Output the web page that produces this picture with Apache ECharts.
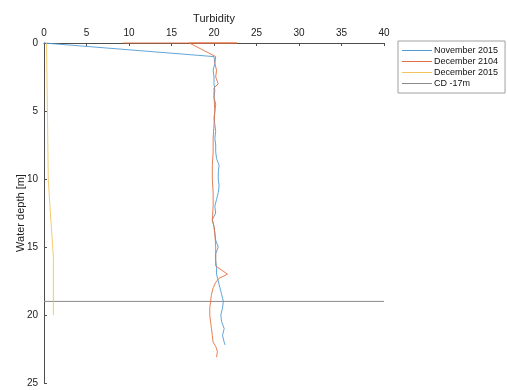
<!DOCTYPE html>
<html>
<head>
<meta charset="utf-8">
<script src="https://cdn.jsdelivr.net/npm/echarts@6/dist/echarts.min.js"></script>
<style>
html,body{margin:0;padding:0;background:#fff;}
#chart{width:507px;height:390px;}
</style>
</head>
<body>
<div id="chart"></div>
<script>
// Turbidity profiles against water depth
const seriesNames = ['November 2015', 'December 2104', 'December 2015', 'CD -17m'];

const novDepth = [0, 1.0, 1.5, 2.0, 2.5, 3.0, 3.5, 4.0, 4.5, 5.0, 5.5, 6.0, 6.5, 7.0, 7.5, 8.0, 8.5, 9.0, 9.5, 10.0, 10.5, 11.0, 11.5, 12.0, 12.5, 13.0, 13.5, 14.0, 14.5, 15.0, 15.5, 16.0, 16.5, 17.0, 17.5, 18.0, 18.5, 19.0, 19.5, 20.0, 20.5, 21.0, 21.5, 22.0, 22.2];
const novTurb  = [0, 20.0, 20.1, 19.9, 20.0, 20.0, 20.1, 20.0, 20.2, 20.1, 20.0, 20.1, 20.2, 20.1, 20.2, 20.2, 20.3, 20.6, 20.5, 20.5, 20.6, 20.5, 20.3, 20.1, 20.2, 19.8, 20.0, 20.1, 20.2, 20.5, 20.2, 20.2, 20.3, 20.3, 20.5, 20.7, 20.9, 21.1, 21.0, 20.8, 20.9, 21.2, 21.0, 21.2, 21.3];

const dec14Depth = [0, 0, 0, 1.0, 1.5, 2.0, 2.5, 3.0, 3.3, 4.0, 5.0, 6.0, 7.0, 8.0, 9.0, 10.0, 11.0, 12.0, 13.0, 13.5, 14.0, 15.0, 16.0, 16.4, 17.0, 17.3, 17.6, 18.0, 18.5, 19.0, 19.5, 20.0, 20.5, 21.0, 21.5, 22.0, 22.3, 22.7, 23.1];
const dec14Turb  = [9.3, 22.7, 17.1, 20.2, 20.1, 20.3, 20.2, 20.5, 20.0, 20.0, 20.1, 20.0, 19.9, 19.9, 19.8, 19.8, 19.9, 19.9, 19.8, 20.0, 20.1, 20.2, 20.2, 20.2, 21.6, 20.6, 20.2, 19.9, 19.7, 19.6, 19.5, 19.5, 19.6, 19.7, 19.8, 19.9, 20.2, 20.4, 20.3];

const dec15Depth = [0, 5, 10, 12, 15.7, 20];
const dec15Turb  = [0.3, 0.4, 0.5, 0.7, 1.1, 1.1];

const cdDepth = [19, 19];
const cdTurb  = [0, 40];

const turbTicks = [0, 5, 10, 15, 20, 25, 30, 35, 40];
const depthTicks = [0, 5, 10, 15, 20, 25];

const zip = (xs, ys) => xs.map((x, i) => [x, ys[i]]);

const axisColor = '#4d4d4d';
const font = 'Liberation Sans';

const chart = echarts.init(document.getElementById('chart'));
chart.setOption({
  animation: false,
  backgroundColor: '#ffffff',
  grid: { left: 44, top: 43, right: 123, bottom: 7, containLabel: false },
  legend: {
    orient: 'vertical',
    left: 398, top: 41,
    data: seriesNames,
    icon: 'rect',
    itemWidth: 30, itemHeight: 1,
    itemGap: 2,
    padding: [5, 7, 5, 4],
    borderColor: '#a0a0a0', borderWidth: 1,
    textStyle: { fontFamily: font, fontSize: 9, color: '#111', lineHeight: 9, padding: [0, 0, 0, -3] }
  },
  xAxis: {
    type: 'value', position: 'top',
    min: turbTicks[0], max: turbTicks[turbTicks.length - 1], interval: 5,
    name: 'Turbidity', nameLocation: 'middle', nameGap: 19, nameMoveOverlap: false,
    nameTextStyle: { fontFamily: font, fontSize: 11, color: '#222' },
    axisLine: { show: true, lineStyle: { color: axisColor, width: 1 } },
    axisTick: { show: true, inside: true, length: 3, lineStyle: { color: axisColor } },
    axisLabel: { fontFamily: font, fontSize: 10, color: '#222', margin: 5 },
    splitLine: { show: false }
  },
  yAxis: {
    type: 'value', inverse: true,
    min: depthTicks[0], max: depthTicks[depthTicks.length - 1], interval: 5,
    name: 'Water depth [m]', nameLocation: 'middle', nameGap: 18, nameMoveOverlap: false,
    nameTextStyle: { fontFamily: font, fontSize: 11, color: '#222' },
    axisLine: { show: true, lineStyle: { color: axisColor, width: 1 } },
    axisTick: { show: true, inside: true, length: 3, lineStyle: { color: axisColor } },
    axisLabel: { fontFamily: font, fontSize: 10, color: '#222', margin: 6 },
    splitLine: { show: false }
  },
  series: [
    { name: seriesNames[0], type: 'line', data: zip(novTurb, novDepth), showSymbol: false, clip: false, z: 5,
      lineStyle: { color: '#4f9bd6', width: 0.9 }, itemStyle: { color: '#4f9bd6' } },
    { name: seriesNames[1], type: 'line', data: zip(dec14Turb, dec14Depth), showSymbol: false, clip: false, z: 5,
      lineStyle: { color: '#e3703f', width: 0.9 }, itemStyle: { color: '#e3703f' } },
    { name: seriesNames[2], type: 'line', data: zip(dec15Turb, dec15Depth), showSymbol: false, clip: false, z: 5,
      lineStyle: { color: '#f2c45c', width: 0.9 }, itemStyle: { color: '#f2c45c' } },
    { name: seriesNames[3], type: 'line', data: zip(cdTurb, cdDepth), showSymbol: false, z: 4,
      lineStyle: { color: '#8a8a8a', width: 1 }, itemStyle: { color: '#8a8a8a' } }
  ]
});
</script>
</body>
</html>
